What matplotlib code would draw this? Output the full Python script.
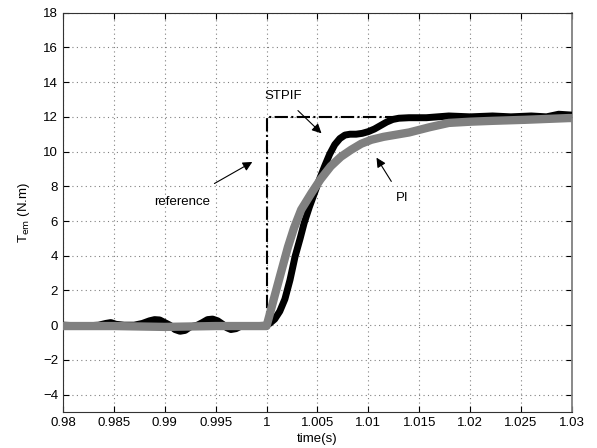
# Torque step response: STPIF vs PI controller
import numpy as np
import matplotlib.pyplot as plt

plt.rcParams['font.family'] = ['Liberation Sans', 'DejaVu Sans']

# reference torque (step at t = 1 s)
t_ref = [0.98, 1.0, 1.0, 1.03]
T_ref = [0.0, 0.0, 12.0, 12.0]

# STPIF response
t_stpif = [0.98, 0.982, 0.9835, 0.9842, 0.9847, 0.9852, 0.986, 0.987, 0.9878, 0.9885,
           0.989, 0.9895, 0.99, 0.9905, 0.991, 0.9915, 0.992, 0.9925, 0.9932, 0.9937,
           0.9942, 0.9947, 0.9952, 0.9957, 0.9961, 0.9965, 0.997, 0.9975, 0.998, 1.0,
           1.0003, 1.0008, 1.0013, 1.0018, 1.0023, 1.0028, 1.0033, 1.0037, 1.0042, 1.0047,
           1.0052, 1.0057, 1.0062, 1.0067, 1.0072, 1.0077, 1.0082, 1.0088, 1.0094, 1.01,
           1.0106, 1.0112, 1.0118, 1.0124, 1.013, 1.014, 1.0157, 1.0179, 1.02, 1.0222,
           1.024, 1.026, 1.0275, 1.0287, 1.03]
T_stpif = [0.0, -0.05, 0.0, 0.1, 0.15, 0.05, 0.0, 0.0, 0.1, 0.25,
           0.32, 0.3, 0.15, 0.0, -0.25, -0.35, -0.3, -0.1, 0.0, 0.15,
           0.32, 0.35, 0.25, 0.05, -0.15, -0.25, -0.2, -0.05, -0.05, 0.0,
           0.1, 0.35, 0.8, 1.5, 2.6, 3.95, 5.0, 5.9, 6.8, 7.6,
           8.4, 9.15, 9.85, 10.4, 10.75, 10.95, 11.0, 11.0, 11.05, 11.15,
           11.3, 11.5, 11.7, 11.85, 11.92, 11.95, 11.95, 12.05, 12.0, 12.05,
           12.0, 12.05, 12.0, 12.15, 12.1]

# PI response
t_pi = [0.98, 0.985, 0.99, 0.995, 1.0, 1.0003, 1.0008, 1.0014, 1.0021, 1.0027,
        1.0034, 1.0044, 1.0053, 1.0063, 1.0073, 1.0083, 1.0093, 1.0103, 1.0115, 1.013,
        1.014, 1.016, 1.0179, 1.02, 1.0222, 1.0254, 1.0297, 1.03]
T_pi = [-0.05, -0.05, -0.1, -0.05, -0.05, 0.6, 1.7, 3.0, 4.5, 5.6,
        6.65, 7.6, 8.4, 9.15, 9.7, 10.1, 10.45, 10.68, 10.85, 11.0,
        11.1, 11.4, 11.65, 11.72, 11.77, 11.83, 11.93, 11.93]

x_ticks = [0.98, 0.985, 0.99, 0.995, 1.0, 1.005, 1.01, 1.015, 1.02, 1.025, 1.03]
x_labels = ['0.98', '0.985', '0.99', '0.995', '1', '1.005', '1.01', '1.015', '1.02', '1.025', '1.03']
y_ticks = list(range(-4, 19, 2))

fig = plt.figure(figsize=(5.97, 4.48), dpi=100)
ax = fig.add_axes([0.1055, 0.0804, 0.8525, 0.8913])

ax.plot(t_ref, T_ref, color='k', ls='-.', lw=1.5, zorder=2)
ax.plot(t_stpif, T_stpif, color='k', lw=5, solid_capstyle='butt', solid_joinstyle='round', zorder=3)
ax.plot(t_pi, T_pi, color='#808080', lw=6, solid_capstyle='butt', solid_joinstyle='round', zorder=4)

ax.set_xlim(0.98, 1.03)
ax.set_ylim(-5, 18)
ax.set_xticks(x_ticks)
ax.set_xticklabels(x_labels)
ax.set_yticks(y_ticks)
ax.tick_params(direction='in', top=True, right=True, labelsize=9.5, length=4)
ax.grid(True, ls=(0, (1, 3)), color='0.5', lw=0.8)
for s in ax.spines.values():
    s.set_color('0.2')
ax.spines['right'].set_color('0.5')
ax.spines['right'].set_linewidth(1.3)

ax.set_xlabel('time(s)', fontsize=9.5, labelpad=3)
ax.set_ylabel(r'T$_{\mathrm{em}}$ (N.m)', fontsize=9.5, labelpad=8)

arr = dict(arrowstyle='-|>', color='k', lw=0.8, mutation_scale=14)
ax.annotate('STPIF', xy=(1.0054, 11.05), xytext=(1.0016, 13.2), fontsize=9.5,
            ha='center', va='center', arrowprops=dict(arr, shrinkA=6, shrinkB=0))
ax.annotate('reference', xy=(0.9986, 9.4), xytext=(0.9917, 7.1), fontsize=9.5,
            ha='center', va='center', arrowprops=dict(arr, shrinkA=14, shrinkB=0))
ax.annotate('PI', xy=(1.0108, 9.65), xytext=(1.0133, 7.3), fontsize=9.5,
            ha='center', va='center', arrowprops=dict(arr, shrinkA=7, shrinkB=0))

fig.savefig('out.png', dpi=100)
